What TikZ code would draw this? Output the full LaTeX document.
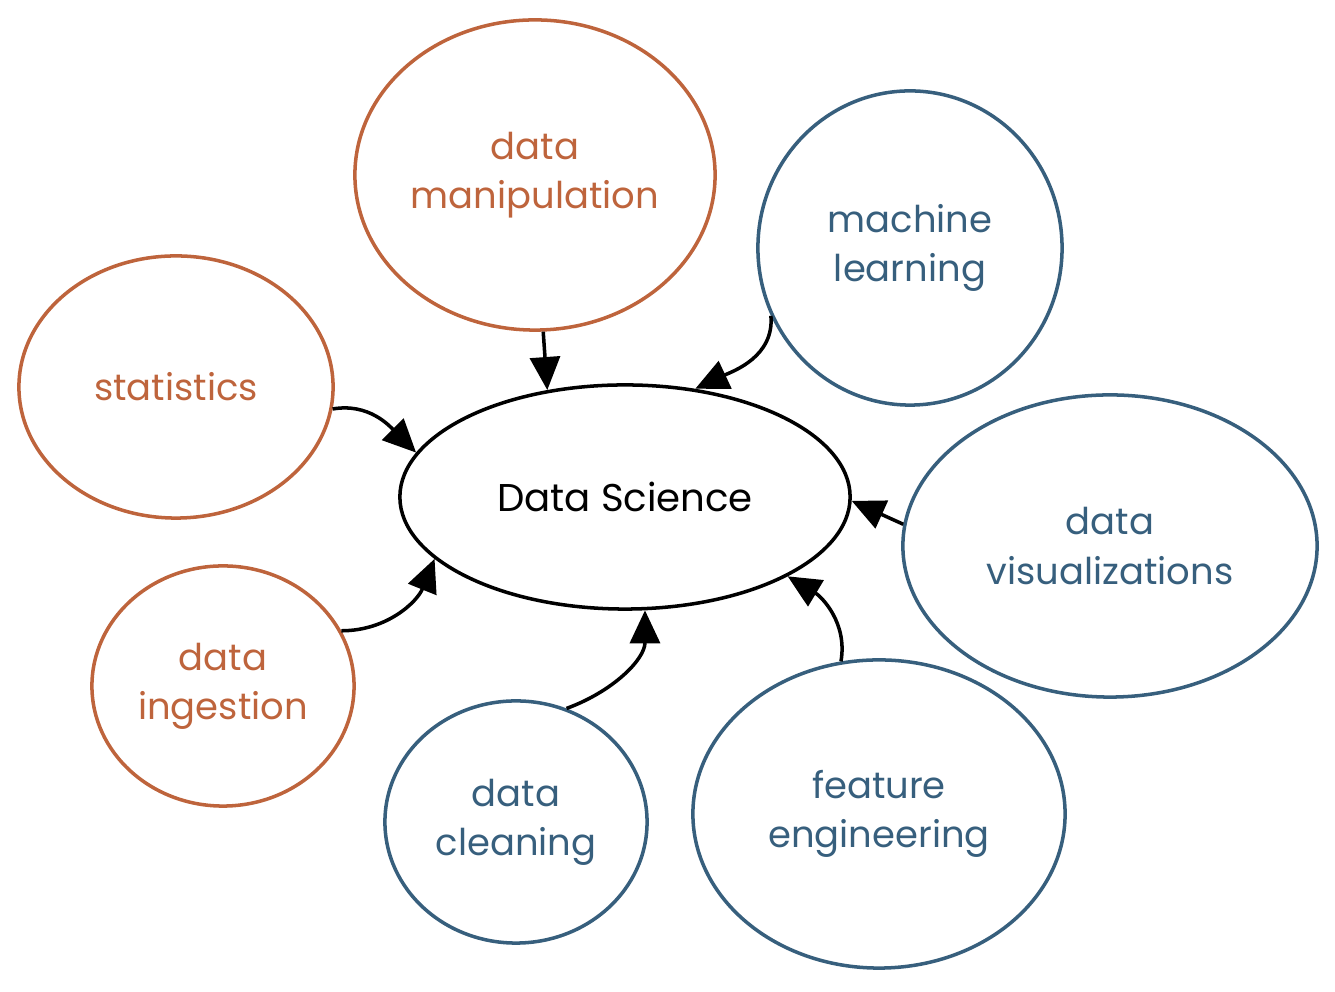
\documentclass[tikz,border=0pt]{standalone}
\usepackage{fontspec}
\setmainfont{Poppins}
\usetikzlibrary{shapes.geometric,arrows.meta}
\definecolor{skorange}{RGB}{190,100,60}
\definecolor{skblue}{RGB}{55,95,125}

\begin{document}
\begin{tikzpicture}[x=0.01cm, y=0.01cm,
      /tikz/font=\fontsize{10.5}{14}\selectfont,
      bubble/.style={draw, ellipse, line width=1pt, align=center, inner sep=0pt},
      orangebub/.style={bubble, draw=skorange, text=skorange},
      bluebub/.style={bubble, draw=skblue, text=skblue},
      feedarr/.style={-{Triangle[length=3.3mm, width=3mm]}, line width=1pt},
    ]
    \useasboundingbox (0,0) rectangle (1335,-992);

    % the hub
    \node[bubble, minimum width=4.5cm, minimum height=2.24cm, font=\fontsize{11}{14}\selectfont] (dsci) at (625,-497) {Data Science};

    % orange bubbles
    \node[orangebub, minimum width=3.6cm, minimum height=3.1cm] (manip) at (535,-175) {data\\manipulation};
    \node[orangebub, minimum width=3.14cm, minimum height=2.62cm] (stats) at (176,-387) {statistics};
    \node[orangebub, minimum width=2.62cm, minimum height=2.4cm] (ingest) at (223,-686) {data\\ingestion};

    % blue bubbles
    \node[bluebub, minimum width=3.04cm, minimum height=3.14cm] (mlearn) at (910,-248) {machine\\learning};
    \node[bluebub, minimum width=4.14cm, minimum height=3.02cm] (dviz) at (1110,-546) {data\\visualizations};
    \node[bluebub, minimum width=2.62cm, minimum height=2.42cm] (clean) at (516,-822) {data\\cleaning};
    \node[bluebub, minimum width=3.72cm, minimum height=3.08cm] (feat) at (879,-814) {feature\\engineering};

    % everything feeds into the hub
    \draw[feedarr] (manip.-87) -- (dsci.126);
    \draw[feedarr] (mlearn.206) to[out=-85, in=25] (dsci.57);
    \draw[feedarr] (stats.-8) to[out=10, in=135] (dsci.168);
    \draw[feedarr] (dviz.174) -- (dsci.-1);
    \draw[feedarr] (ingest.25) to[out=0, in=-112] (dsci.198);
    \draw[feedarr] (clean.66) to[out=20, in=-90] (dsci.-80);
    \draw[feedarr] (feat.104) to[out=80, in=-31] (dsci.-26);
  \end{tikzpicture}
\end{document}
